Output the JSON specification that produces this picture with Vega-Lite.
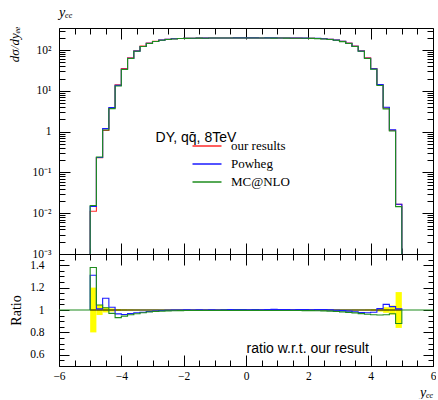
{
  "$schema": "https://vega.github.io/schema/vega-lite/v6.json",
  "background": "white",
  "padding": {"left": 8, "top": 5, "right": 0, "bottom": 0},
  "spacing": 0,
  "bounds": "flush",
  "config": {
    "view": {"stroke": null},
    "axis": {"grid": false, "domainColor": "#000", "domainWidth": 1, "tickColor": "#000", "tickWidth": 1, "labelFont": "Liberation Serif", "labelFontSize": 11.5, "labelColor": "#000", "titleFont": "Liberation Serif", "titleFontSize": 13, "titleFontWeight": "normal", "titleColor": "#000", "labelFlush": false, "labelOverlap": false, "labelBound": false}
  },
  "datasets": {
    "spectra": [
      {"s": "our results", "i": 0, "x": -5, "v": 0.001},
      {"s": "our results", "i": 1, "x": -5, "v": 0.0112},
      {"s": "our results", "i": 2, "x": -4.8, "v": 0.23},
      {"s": "our results", "i": 3, "x": -4.6, "v": 1.08},
      {"s": "our results", "i": 4, "x": -4.4, "v": 3.8},
      {"s": "our results", "i": 5, "x": -4.2, "v": 14.2},
      {"s": "our results", "i": 6, "x": -4, "v": 35.5},
      {"s": "our results", "i": 7, "x": -3.8, "v": 65},
      {"s": "our results", "i": 8, "x": -3.6, "v": 97},
      {"s": "our results", "i": 9, "x": -3.4, "v": 126},
      {"s": "our results", "i": 10, "x": -3.2, "v": 149},
      {"s": "our results", "i": 11, "x": -3, "v": 165},
      {"s": "our results", "i": 12, "x": -2.8, "v": 177},
      {"s": "our results", "i": 13, "x": -2.6, "v": 185},
      {"s": "our results", "i": 14, "x": -2.4, "v": 190},
      {"s": "our results", "i": 15, "x": -2.2, "v": 194},
      {"s": "our results", "i": 16, "x": -2, "v": 196},
      {"s": "our results", "i": 17, "x": -1.8, "v": 197},
      {"s": "our results", "i": 18, "x": -1.6, "v": 198},
      {"s": "our results", "i": 19, "x": -1.4, "v": 198},
      {"s": "our results", "i": 20, "x": -1.2, "v": 199},
      {"s": "our results", "i": 21, "x": -1, "v": 199},
      {"s": "our results", "i": 22, "x": -0.8, "v": 199},
      {"s": "our results", "i": 23, "x": -0.6, "v": 199},
      {"s": "our results", "i": 24, "x": -0.4, "v": 200},
      {"s": "our results", "i": 25, "x": -0.2, "v": 200},
      {"s": "our results", "i": 26, "x": 0, "v": 200},
      {"s": "our results", "i": 27, "x": 0.2, "v": 200},
      {"s": "our results", "i": 28, "x": 0.4, "v": 199},
      {"s": "our results", "i": 29, "x": 0.6, "v": 199},
      {"s": "our results", "i": 30, "x": 0.8, "v": 199},
      {"s": "our results", "i": 31, "x": 1, "v": 199},
      {"s": "our results", "i": 32, "x": 1.2, "v": 199},
      {"s": "our results", "i": 33, "x": 1.4, "v": 198},
      {"s": "our results", "i": 34, "x": 1.6, "v": 198},
      {"s": "our results", "i": 35, "x": 1.8, "v": 197},
      {"s": "our results", "i": 36, "x": 2, "v": 196},
      {"s": "our results", "i": 37, "x": 2.2, "v": 194},
      {"s": "our results", "i": 38, "x": 2.4, "v": 190},
      {"s": "our results", "i": 39, "x": 2.6, "v": 185},
      {"s": "our results", "i": 40, "x": 2.8, "v": 177},
      {"s": "our results", "i": 41, "x": 3, "v": 165},
      {"s": "our results", "i": 42, "x": 3.2, "v": 149},
      {"s": "our results", "i": 43, "x": 3.4, "v": 126},
      {"s": "our results", "i": 44, "x": 3.6, "v": 97},
      {"s": "our results", "i": 45, "x": 3.8, "v": 65},
      {"s": "our results", "i": 46, "x": 4, "v": 35.5},
      {"s": "our results", "i": 47, "x": 4.2, "v": 14.2},
      {"s": "our results", "i": 48, "x": 4.4, "v": 3.8},
      {"s": "our results", "i": 49, "x": 4.6, "v": 1.08},
      {"s": "our results", "i": 50, "x": 4.8, "v": 0.0165},
      {"s": "our results", "i": 51, "x": 5, "v": 0.001},
      {"s": "Powheg", "i": 0, "x": -5, "v": 0.001},
      {"s": "Powheg", "i": 1, "x": -5, "v": 0.01467},
      {"s": "Powheg", "i": 2, "x": -4.8, "v": 0.2323},
      {"s": "Powheg", "i": 3, "x": -4.6, "v": 1.193},
      {"s": "Powheg", "i": 4, "x": -4.4, "v": 3.895},
      {"s": "Powheg", "i": 5, "x": -4.2, "v": 13.7},
      {"s": "Powheg", "i": 6, "x": -4, "v": 34.08},
      {"s": "Powheg", "i": 7, "x": -3.8, "v": 62.92},
      {"s": "Powheg", "i": 8, "x": -3.6, "v": 94.58},
      {"s": "Powheg", "i": 9, "x": -3.4, "v": 123.5},
      {"s": "Powheg", "i": 10, "x": -3.2, "v": 146.9},
      {"s": "Powheg", "i": 11, "x": -3, "v": 163.4},
      {"s": "Powheg", "i": 12, "x": -2.8, "v": 176.1},
      {"s": "Powheg", "i": 13, "x": -2.6, "v": 184.6},
      {"s": "Powheg", "i": 14, "x": -2.4, "v": 190},
      {"s": "Powheg", "i": 15, "x": -2.2, "v": 194},
      {"s": "Powheg", "i": 16, "x": -2, "v": 196.4},
      {"s": "Powheg", "i": 17, "x": -1.8, "v": 197},
      {"s": "Powheg", "i": 18, "x": -1.6, "v": 198.4},
      {"s": "Powheg", "i": 19, "x": -1.4, "v": 198},
      {"s": "Powheg", "i": 20, "x": -1.2, "v": 199.4},
      {"s": "Powheg", "i": 21, "x": -1, "v": 199},
      {"s": "Powheg", "i": 22, "x": -0.8, "v": 199.4},
      {"s": "Powheg", "i": 23, "x": -0.6, "v": 199.6},
      {"s": "Powheg", "i": 24, "x": -0.4, "v": 200.8},
      {"s": "Powheg", "i": 25, "x": -0.2, "v": 200.6},
      {"s": "Powheg", "i": 26, "x": 0, "v": 200.4},
      {"s": "Powheg", "i": 27, "x": 0.2, "v": 200.6},
      {"s": "Powheg", "i": 28, "x": 0.4, "v": 199.4},
      {"s": "Powheg", "i": 29, "x": 0.6, "v": 200},
      {"s": "Powheg", "i": 30, "x": 0.8, "v": 200.2},
      {"s": "Powheg", "i": 31, "x": 1, "v": 199.8},
      {"s": "Powheg", "i": 32, "x": 1.2, "v": 199.6},
      {"s": "Powheg", "i": 33, "x": 1.4, "v": 198.4},
      {"s": "Powheg", "i": 34, "x": 1.6, "v": 198.8},
      {"s": "Powheg", "i": 35, "x": 1.8, "v": 197.6},
      {"s": "Powheg", "i": 36, "x": 2, "v": 196.4},
      {"s": "Powheg", "i": 37, "x": 2.2, "v": 194.6},
      {"s": "Powheg", "i": 38, "x": 2.4, "v": 190.8},
      {"s": "Powheg", "i": 39, "x": 2.6, "v": 185.2},
      {"s": "Powheg", "i": 40, "x": 2.8, "v": 176.6},
      {"s": "Powheg", "i": 41, "x": 3, "v": 164},
      {"s": "Powheg", "i": 42, "x": 3.2, "v": 147.5},
      {"s": "Powheg", "i": 43, "x": 3.4, "v": 124.1},
      {"s": "Powheg", "i": 44, "x": 3.6, "v": 94.9},
      {"s": "Powheg", "i": 45, "x": 3.8, "v": 63.4},
      {"s": "Powheg", "i": 46, "x": 4, "v": 34.8},
      {"s": "Powheg", "i": 47, "x": 4.2, "v": 14.37},
      {"s": "Powheg", "i": 48, "x": 4.4, "v": 3.99},
      {"s": "Powheg", "i": 49, "x": 4.6, "v": 1.112},
      {"s": "Powheg", "i": 50, "x": 4.8, "v": 0.01667},
      {"s": "Powheg", "i": 51, "x": 5, "v": 0.001},
      {"s": "MC@NLO", "i": 0, "x": -5, "v": 0.001},
      {"s": "MC@NLO", "i": 1, "x": -5, "v": 0.01546},
      {"s": "MC@NLO", "i": 2, "x": -4.8, "v": 0.2404},
      {"s": "MC@NLO", "i": 3, "x": -4.6, "v": 1.102},
      {"s": "MC@NLO", "i": 4, "x": -4.4, "v": 3.686},
      {"s": "MC@NLO", "i": 5, "x": -4.2, "v": 13.23},
      {"s": "MC@NLO", "i": 6, "x": -4, "v": 33.55},
      {"s": "MC@NLO", "i": 7, "x": -3.8, "v": 62.27},
      {"s": "MC@NLO", "i": 8, "x": -3.6, "v": 93.8},
      {"s": "MC@NLO", "i": 9, "x": -3.4, "v": 122.9},
      {"s": "MC@NLO", "i": 10, "x": -3.2, "v": 146.3},
      {"s": "MC@NLO", "i": 11, "x": -3, "v": 162.7},
      {"s": "MC@NLO", "i": 12, "x": -2.8, "v": 175.2},
      {"s": "MC@NLO", "i": 13, "x": -2.6, "v": 183.5},
      {"s": "MC@NLO", "i": 14, "x": -2.4, "v": 188.7},
      {"s": "MC@NLO", "i": 15, "x": -2.2, "v": 192.8},
      {"s": "MC@NLO", "i": 16, "x": -2, "v": 195},
      {"s": "MC@NLO", "i": 17, "x": -1.8, "v": 196},
      {"s": "MC@NLO", "i": 18, "x": -1.6, "v": 197.2},
      {"s": "MC@NLO", "i": 19, "x": -1.4, "v": 197},
      {"s": "MC@NLO", "i": 20, "x": -1.2, "v": 198.2},
      {"s": "MC@NLO", "i": 21, "x": -1, "v": 198.2},
      {"s": "MC@NLO", "i": 22, "x": -0.8, "v": 198.4},
      {"s": "MC@NLO", "i": 23, "x": -0.6, "v": 198.2},
      {"s": "MC@NLO", "i": 24, "x": -0.4, "v": 199.4},
      {"s": "MC@NLO", "i": 25, "x": -0.2, "v": 199.4},
      {"s": "MC@NLO", "i": 26, "x": 0, "v": 199.2},
      {"s": "MC@NLO", "i": 27, "x": 0.2, "v": 199.4},
      {"s": "MC@NLO", "i": 28, "x": 0.4, "v": 198.2},
      {"s": "MC@NLO", "i": 29, "x": 0.6, "v": 198.2},
      {"s": "MC@NLO", "i": 30, "x": 0.8, "v": 198},
      {"s": "MC@NLO", "i": 31, "x": 1, "v": 198.2},
      {"s": "MC@NLO", "i": 32, "x": 1.2, "v": 198},
      {"s": "MC@NLO", "i": 33, "x": 1.4, "v": 197},
      {"s": "MC@NLO", "i": 34, "x": 1.6, "v": 197},
      {"s": "MC@NLO", "i": 35, "x": 1.8, "v": 195.8},
      {"s": "MC@NLO", "i": 36, "x": 2, "v": 194.8},
      {"s": "MC@NLO", "i": 37, "x": 2.2, "v": 192.6},
      {"s": "MC@NLO", "i": 38, "x": 2.4, "v": 188.5},
      {"s": "MC@NLO", "i": 39, "x": 2.6, "v": 183.2},
      {"s": "MC@NLO", "i": 40, "x": 2.8, "v": 174.7},
      {"s": "MC@NLO", "i": 41, "x": 3, "v": 162.2},
      {"s": "MC@NLO", "i": 42, "x": 3.2, "v": 145.9},
      {"s": "MC@NLO", "i": 43, "x": 3.4, "v": 122.7},
      {"s": "MC@NLO", "i": 44, "x": 3.6, "v": 93.9},
      {"s": "MC@NLO", "i": 45, "x": 3.8, "v": 62.5},
      {"s": "MC@NLO", "i": 46, "x": 4, "v": 34},
      {"s": "MC@NLO", "i": 47, "x": 4.2, "v": 13.56},
      {"s": "MC@NLO", "i": 48, "x": 4.4, "v": 3.64},
      {"s": "MC@NLO", "i": 49, "x": 4.6, "v": 1.043},
      {"s": "MC@NLO", "i": 50, "x": 4.8, "v": 0.01452},
      {"s": "MC@NLO", "i": 51, "x": 5, "v": 0.001}
    ],
    "ratio": [
      {"s": "Powheg", "i": 0, "x": -5, "r": 1},
      {"s": "Powheg", "i": 1, "x": -5, "r": 1.31},
      {"s": "Powheg", "i": 2, "x": -4.8, "r": 1.01},
      {"s": "Powheg", "i": 3, "x": -4.6, "r": 1.105},
      {"s": "Powheg", "i": 4, "x": -4.4, "r": 1.025},
      {"s": "Powheg", "i": 5, "x": -4.2, "r": 0.965},
      {"s": "Powheg", "i": 6, "x": -4, "r": 0.96},
      {"s": "Powheg", "i": 7, "x": -3.8, "r": 0.968},
      {"s": "Powheg", "i": 8, "x": -3.6, "r": 0.975},
      {"s": "Powheg", "i": 9, "x": -3.4, "r": 0.98},
      {"s": "Powheg", "i": 10, "x": -3.2, "r": 0.986},
      {"s": "Powheg", "i": 11, "x": -3, "r": 0.99},
      {"s": "Powheg", "i": 12, "x": -2.8, "r": 0.995},
      {"s": "Powheg", "i": 13, "x": -2.6, "r": 0.998},
      {"s": "Powheg", "i": 14, "x": -2.4, "r": 1},
      {"s": "Powheg", "i": 15, "x": -2.2, "r": 1},
      {"s": "Powheg", "i": 16, "x": -2, "r": 1.002},
      {"s": "Powheg", "i": 17, "x": -1.8, "r": 1},
      {"s": "Powheg", "i": 18, "x": -1.6, "r": 1.002},
      {"s": "Powheg", "i": 19, "x": -1.4, "r": 1},
      {"s": "Powheg", "i": 20, "x": -1.2, "r": 1.002},
      {"s": "Powheg", "i": 21, "x": -1, "r": 1},
      {"s": "Powheg", "i": 22, "x": -0.8, "r": 1.002},
      {"s": "Powheg", "i": 23, "x": -0.6, "r": 1.003},
      {"s": "Powheg", "i": 24, "x": -0.4, "r": 1.004},
      {"s": "Powheg", "i": 25, "x": -0.2, "r": 1.003},
      {"s": "Powheg", "i": 26, "x": 0, "r": 1.002},
      {"s": "Powheg", "i": 27, "x": 0.2, "r": 1.003},
      {"s": "Powheg", "i": 28, "x": 0.4, "r": 1.002},
      {"s": "Powheg", "i": 29, "x": 0.6, "r": 1.005},
      {"s": "Powheg", "i": 30, "x": 0.8, "r": 1.006},
      {"s": "Powheg", "i": 31, "x": 1, "r": 1.004},
      {"s": "Powheg", "i": 32, "x": 1.2, "r": 1.003},
      {"s": "Powheg", "i": 33, "x": 1.4, "r": 1.002},
      {"s": "Powheg", "i": 34, "x": 1.6, "r": 1.004},
      {"s": "Powheg", "i": 35, "x": 1.8, "r": 1.003},
      {"s": "Powheg", "i": 36, "x": 2, "r": 1.002},
      {"s": "Powheg", "i": 37, "x": 2.2, "r": 1.003},
      {"s": "Powheg", "i": 38, "x": 2.4, "r": 1.004},
      {"s": "Powheg", "i": 39, "x": 2.6, "r": 1.001},
      {"s": "Powheg", "i": 40, "x": 2.8, "r": 0.998},
      {"s": "Powheg", "i": 41, "x": 3, "r": 0.994},
      {"s": "Powheg", "i": 42, "x": 3.2, "r": 0.99},
      {"s": "Powheg", "i": 43, "x": 3.4, "r": 0.985},
      {"s": "Powheg", "i": 44, "x": 3.6, "r": 0.978},
      {"s": "Powheg", "i": 45, "x": 3.8, "r": 0.975},
      {"s": "Powheg", "i": 46, "x": 4, "r": 0.98},
      {"s": "Powheg", "i": 47, "x": 4.2, "r": 1.012},
      {"s": "Powheg", "i": 48, "x": 4.4, "r": 1.05},
      {"s": "Powheg", "i": 49, "x": 4.6, "r": 1.03},
      {"s": "Powheg", "i": 50, "x": 4.8, "r": 1.01},
      {"s": "Powheg", "i": 51, "x": 5, "r": 1},
      {"s": "MC@NLO", "i": 0, "x": -6, "r": 1},
      {"s": "MC@NLO", "i": 1, "x": -5, "r": 1.38},
      {"s": "MC@NLO", "i": 2, "x": -4.8, "r": 1.045},
      {"s": "MC@NLO", "i": 3, "x": -4.6, "r": 1.02},
      {"s": "MC@NLO", "i": 4, "x": -4.4, "r": 0.97},
      {"s": "MC@NLO", "i": 5, "x": -4.2, "r": 0.932},
      {"s": "MC@NLO", "i": 6, "x": -4, "r": 0.945},
      {"s": "MC@NLO", "i": 7, "x": -3.8, "r": 0.958},
      {"s": "MC@NLO", "i": 8, "x": -3.6, "r": 0.967},
      {"s": "MC@NLO", "i": 9, "x": -3.4, "r": 0.975},
      {"s": "MC@NLO", "i": 10, "x": -3.2, "r": 0.982},
      {"s": "MC@NLO", "i": 11, "x": -3, "r": 0.986},
      {"s": "MC@NLO", "i": 12, "x": -2.8, "r": 0.99},
      {"s": "MC@NLO", "i": 13, "x": -2.6, "r": 0.992},
      {"s": "MC@NLO", "i": 14, "x": -2.4, "r": 0.993},
      {"s": "MC@NLO", "i": 15, "x": -2.2, "r": 0.994},
      {"s": "MC@NLO", "i": 16, "x": -2, "r": 0.995},
      {"s": "MC@NLO", "i": 17, "x": -1.8, "r": 0.995},
      {"s": "MC@NLO", "i": 18, "x": -1.6, "r": 0.996},
      {"s": "MC@NLO", "i": 19, "x": -1.4, "r": 0.995},
      {"s": "MC@NLO", "i": 20, "x": -1.2, "r": 0.996},
      {"s": "MC@NLO", "i": 21, "x": -1, "r": 0.996},
      {"s": "MC@NLO", "i": 22, "x": -0.8, "r": 0.997},
      {"s": "MC@NLO", "i": 23, "x": -0.6, "r": 0.996},
      {"s": "MC@NLO", "i": 24, "x": -0.4, "r": 0.997},
      {"s": "MC@NLO", "i": 25, "x": -0.2, "r": 0.997},
      {"s": "MC@NLO", "i": 26, "x": 0, "r": 0.996},
      {"s": "MC@NLO", "i": 27, "x": 0.2, "r": 0.997},
      {"s": "MC@NLO", "i": 28, "x": 0.4, "r": 0.996},
      {"s": "MC@NLO", "i": 29, "x": 0.6, "r": 0.996},
      {"s": "MC@NLO", "i": 30, "x": 0.8, "r": 0.995},
      {"s": "MC@NLO", "i": 31, "x": 1, "r": 0.996},
      {"s": "MC@NLO", "i": 32, "x": 1.2, "r": 0.995},
      {"s": "MC@NLO", "i": 33, "x": 1.4, "r": 0.995},
      {"s": "MC@NLO", "i": 34, "x": 1.6, "r": 0.995},
      {"s": "MC@NLO", "i": 35, "x": 1.8, "r": 0.994},
      {"s": "MC@NLO", "i": 36, "x": 2, "r": 0.994},
      {"s": "MC@NLO", "i": 37, "x": 2.2, "r": 0.993},
      {"s": "MC@NLO", "i": 38, "x": 2.4, "r": 0.992},
      {"s": "MC@NLO", "i": 39, "x": 2.6, "r": 0.99},
      {"s": "MC@NLO", "i": 40, "x": 2.8, "r": 0.987},
      {"s": "MC@NLO", "i": 41, "x": 3, "r": 0.983},
      {"s": "MC@NLO", "i": 42, "x": 3.2, "r": 0.979},
      {"s": "MC@NLO", "i": 43, "x": 3.4, "r": 0.974},
      {"s": "MC@NLO", "i": 44, "x": 3.6, "r": 0.968},
      {"s": "MC@NLO", "i": 45, "x": 3.8, "r": 0.962},
      {"s": "MC@NLO", "i": 46, "x": 4, "r": 0.958},
      {"s": "MC@NLO", "i": 47, "x": 4.2, "r": 0.955},
      {"s": "MC@NLO", "i": 48, "x": 4.4, "r": 0.958},
      {"s": "MC@NLO", "i": 49, "x": 4.6, "r": 0.966},
      {"s": "MC@NLO", "i": 50, "x": 4.8, "r": 0.88},
      {"s": "MC@NLO", "i": 51, "x": 5, "r": 1},
      {"s": "MC@NLO", "i": 52, "x": 6, "r": 1}
    ],
    "band": [
      {"x0": -5, "x1": -4.8, "lo": 0.8, "hi": 1.2},
      {"x0": -4.8, "x1": -4.6, "lo": 0.955, "hi": 1.045},
      {"x0": -4.6, "x1": -4.4, "lo": 0.978, "hi": 1.022},
      {"x0": -4.4, "x1": -4.2, "lo": 0.986, "hi": 1.014},
      {"x0": -4.2, "x1": -4, "lo": 0.991, "hi": 1.009},
      {"x0": -4, "x1": -3.8, "lo": 0.993, "hi": 1.007},
      {"x0": -3.8, "x1": -3.6, "lo": 0.994, "hi": 1.006},
      {"x0": -3.6, "x1": -3.4, "lo": 0.995, "hi": 1.005},
      {"x0": -3.4, "x1": -3.2, "lo": 0.996, "hi": 1.004},
      {"x0": -3.2, "x1": -3, "lo": 0.996, "hi": 1.004},
      {"x0": -3, "x1": -2.8, "lo": 0.996, "hi": 1.004},
      {"x0": -2.8, "x1": -2.6, "lo": 0.997, "hi": 1.003},
      {"x0": -2.6, "x1": -2.4, "lo": 0.997, "hi": 1.003},
      {"x0": -2.4, "x1": -2.2, "lo": 0.997, "hi": 1.003},
      {"x0": -2.2, "x1": -2, "lo": 0.997, "hi": 1.003},
      {"x0": -2, "x1": -1.8, "lo": 0.997, "hi": 1.003},
      {"x0": -1.8, "x1": -1.6, "lo": 0.997, "hi": 1.003},
      {"x0": -1.6, "x1": -1.4, "lo": 0.997, "hi": 1.003},
      {"x0": -1.4, "x1": -1.2, "lo": 0.997, "hi": 1.003},
      {"x0": -1.2, "x1": -1, "lo": 0.997, "hi": 1.003},
      {"x0": -1, "x1": -0.8, "lo": 0.997, "hi": 1.003},
      {"x0": -0.8, "x1": -0.6, "lo": 0.997, "hi": 1.003},
      {"x0": -0.6, "x1": -0.4, "lo": 0.997, "hi": 1.003},
      {"x0": -0.4, "x1": -0.2, "lo": 0.997, "hi": 1.003},
      {"x0": -0.2, "x1": 0, "lo": 0.997, "hi": 1.003},
      {"x0": 0, "x1": 0.2, "lo": 0.997, "hi": 1.003},
      {"x0": 0.2, "x1": 0.4, "lo": 0.997, "hi": 1.003},
      {"x0": 0.4, "x1": 0.6, "lo": 0.997, "hi": 1.003},
      {"x0": 0.6, "x1": 0.8, "lo": 0.997, "hi": 1.003},
      {"x0": 0.8, "x1": 1, "lo": 0.997, "hi": 1.003},
      {"x0": 1, "x1": 1.2, "lo": 0.997, "hi": 1.003},
      {"x0": 1.2, "x1": 1.4, "lo": 0.997, "hi": 1.003},
      {"x0": 1.4, "x1": 1.6, "lo": 0.997, "hi": 1.003},
      {"x0": 1.6, "x1": 1.8, "lo": 0.997, "hi": 1.003},
      {"x0": 1.8, "x1": 2, "lo": 0.997, "hi": 1.003},
      {"x0": 2, "x1": 2.2, "lo": 0.997, "hi": 1.003},
      {"x0": 2.2, "x1": 2.4, "lo": 0.997, "hi": 1.003},
      {"x0": 2.4, "x1": 2.6, "lo": 0.997, "hi": 1.003},
      {"x0": 2.6, "x1": 2.8, "lo": 0.997, "hi": 1.003},
      {"x0": 2.8, "x1": 3, "lo": 0.996, "hi": 1.004},
      {"x0": 3, "x1": 3.2, "lo": 0.996, "hi": 1.004},
      {"x0": 3.2, "x1": 3.4, "lo": 0.996, "hi": 1.004},
      {"x0": 3.4, "x1": 3.6, "lo": 0.995, "hi": 1.005},
      {"x0": 3.6, "x1": 3.8, "lo": 0.995, "hi": 1.005},
      {"x0": 3.8, "x1": 4, "lo": 0.994, "hi": 1.006},
      {"x0": 4, "x1": 4.2, "lo": 0.992, "hi": 1.008},
      {"x0": 4.2, "x1": 4.4, "lo": 0.986, "hi": 1.014},
      {"x0": 4.4, "x1": 4.6, "lo": 0.975, "hi": 1.025},
      {"x0": 4.6, "x1": 4.8, "lo": 0.96, "hi": 1.04},
      {"x0": 4.8, "x1": 5, "lo": 0.84, "hi": 1.16}
    ]
  },
  "vconcat": [
    {
      "width": 374,
      "height": 226,
      "title": {"text": "yₑₑ", "anchor": "start", "frame": "group", "font": "Liberation Serif", "fontStyle": "italic", "fontSize": 14, "fontWeight": "normal", "color": "#000", "offset": 5},
      "layer": [
        {
          "data": {"name": "spectra"},
          "mark": {"type": "line", "interpolate": "step-after", "strokeWidth": 1.1, "clip": true},
          "encoding": {
            "x": {"field": "x", "type": "quantitative", "scale": {"domain": [-6, 6], "nice": false, "zero": false},
              "axis": {"orient": "bottom", "values": [-6,-5.5,-5,-4.5,-4,-3.5,-3,-2.5,-2,-1.5,-1,-0.5,0,0.5,1,1.5,2,2.5,3,3.5,4,4.5,5,5.5,6], "labels": false, "title": null,
                "tickSize": {"condition": {"test": "datum.value % 2 == 0", "value": -11}, "value": -6}}},
            "y": {"field": "v", "type": "quantitative", "scale": {"type": "log", "domain": [0.001, 350], "nice": false},
              "axis": {"orient": "left", "values": [0.001,0.002,0.003,0.004,0.005,0.006,0.007,0.008,0.009,0.01,0.02,0.03,0.04,0.05,0.06,0.07,0.08,0.09,0.1,0.2,0.3,0.4,0.5,0.6,0.7,0.8,0.9,1,2,3,4,5,6,7,8,9,10,20,30,40,50,60,70,80,90,100,200,300],
                "labelExpr": "datum.value == 100 ? '10²' : datum.value == 10 ? '10¹' : datum.value == 1 ? '1' : datum.value == 0.1 ? '10⁻¹' : datum.value == 0.01 ? '10⁻²' : datum.value == 0.001 ? '10⁻³' : ''",
                "tickSize": {"condition": {"test": "indexof([0.001,0.01,0.1,1,10,100], datum.value) >= 0", "value": -11}, "value": -6},
                "labelPadding": 19,
                "title": "dσ/dyₑₑ", "titleFontStyle": "italic", "titleAngle": 270, "titleX": -45, "titleY": -2, "titleAlign": "right", "titleBaseline": "middle"}},
            "color": {"field": "s", "type": "nominal",
              "scale": {"domain": ["our results", "Powheg", "MC@NLO"], "range": ["#ff2a2a", "#1a1aff", "#1e8c1e"]},
              "legend": {"orient": "none", "legendX": 141.5, "legendY": 111.5, "title": null, "padding": 0, "symbolType": "M-2.9,0H2.9", "symbolSize": 100, "symbolStrokeWidth": 1.5, "labelFont": "Liberation Serif", "labelFontSize": 13, "labelColor": "#000", "rowPadding": 4, "labelOffset": 17.5}},
            "order": {"field": "i", "type": "quantitative"}
          }
        },
        {
          "data": {"values": [{"label": "DY, qq̄, 8TeV"}]},
          "mark": {"type": "text", "align": "left", "baseline": "alphabetic", "font": "Liberation Sans", "fontSize": 14, "color": "#000"},
          "encoding": {
            "x": {"datum": -2.9, "type": "quantitative", "scale": {"domain": [-6, 6], "nice": false, "zero": false},
              "axis": {"orient": "top", "values": [-6,-5.5,-5,-4.5,-4,-3.5,-3,-2.5,-2,-1.5,-1,-0.5,0,0.5,1,1.5,2,2.5,3,3.5,4,4.5,5,5.5,6], "labels": false, "title": null,
                "tickSize": {"condition": {"test": "datum.value % 2 == 0", "value": -11}, "value": -6}}},
            "y": {"datum": 0.56, "type": "quantitative", "scale": {"type": "log", "domain": [0.001, 350], "nice": false},
              "axis": {"orient": "right", "values": [0.001,0.002,0.003,0.004,0.005,0.006,0.007,0.008,0.009,0.01,0.02,0.03,0.04,0.05,0.06,0.07,0.08,0.09,0.1,0.2,0.3,0.4,0.5,0.6,0.7,0.8,0.9,1,2,3,4,5,6,7,8,9,10,20,30,40,50,60,70,80,90,100,200,300], "labels": false, "title": null,
                "tickSize": {"condition": {"test": "indexof([0.001,0.01,0.1,1,10,100], datum.value) >= 0", "value": -11}, "value": -6}}},
            "text": {"field": "label"}
          }
        }
      ],
      "resolve": {"axis": {"x": "independent", "y": "independent"}}
    },
    {
      "width": 374,
      "height": 112,
      "layer": [
        {
          "data": {"name": "band"},
          "mark": {"type": "rect", "color": "#ffff00", "clip": true},
          "encoding": {
            "x": {"field": "x0", "type": "quantitative", "scale": {"domain": [-6, 6], "nice": false, "zero": false},
              "axis": {"orient": "bottom", "values": [-6,-5.5,-5,-4.5,-4,-3.5,-3,-2.5,-2,-1.5,-1,-0.5,0,0.5,1,1.5,2,2.5,3,3.5,4,4.5,5,5.5,6],
                "labelExpr": "datum.value % 2 == 0 ? format(datum.value, 'd') : ''", "labelPadding": 15,
                "tickSize": {"condition": {"test": "datum.value % 2 == 0", "value": -11}, "value": -6},
                "title": "yₑₑ", "titleFontStyle": "italic", "titleFontSize": 14, "titleX": 374, "titleY": 26, "titleAlign": "right", "titleBaseline": "middle"}},
            "x2": {"field": "x1"},
            "y": {"field": "lo", "type": "quantitative", "scale": {"domain": [0.5, 1.5], "nice": false, "zero": false},
              "axis": {"orient": "left", "values": [0.5,0.55,0.6,0.65,0.7,0.75,0.8,0.85,0.9,0.95,1,1.05,1.1,1.15,1.2,1.25,1.3,1.35,1.4,1.45,1.5],
                "labelExpr": "datum.value == 1.4 ? '1.4' : datum.value == 1.2 ? '1.2' : datum.value == 1 ? '1' : datum.value == 0.8 ? '0.8' : datum.value == 0.6 ? '0.6' : ''",
                "tickSize": {"condition": {"test": "indexof([0.6,0.8,1,1.2,1.4], datum.value) >= 0", "value": -10}, "value": -5},
                "labelPadding": 25,
                "title": "Ratio", "titleFontSize": 14, "titleAngle": 270, "titleX": -43, "titleBaseline": "middle"}},
            "y2": {"field": "hi"}
          }
        },
        {
          "data": {"values": [{"ref": "our result"}]},
          "mark": {"type": "rule", "color": "#000", "strokeWidth": 1},
          "encoding": {
            "x": {"datum": -5, "type": "quantitative", "scale": {"domain": [-6, 6], "nice": false, "zero": false},
              "axis": {"orient": "top", "values": [-6,-5.5,-5,-4.5,-4,-3.5,-3,-2.5,-2,-1.5,-1,-0.5,0,0.5,1,1.5,2,2.5,3,3.5,4,4.5,5,5.5,6], "labels": false, "title": null,
                "tickSize": {"condition": {"test": "datum.value % 2 == 0", "value": -11}, "value": -6}}},
            "x2": {"datum": 5},
            "y": {"datum": 1, "type": "quantitative", "scale": {"domain": [0.5, 1.5], "nice": false, "zero": false},
              "axis": {"orient": "right", "values": [0.5,0.55,0.6,0.65,0.7,0.75,0.8,0.85,0.9,0.95,1,1.05,1.1,1.15,1.2,1.25,1.3,1.35,1.4,1.45,1.5], "labels": false, "title": null,
                "tickSize": {"condition": {"test": "indexof([0.6,0.8,1,1.2,1.4], datum.value) >= 0", "value": -10}, "value": -5}}}
          }
        },
        {
          "data": {"name": "ratio"},
          "transform": [{"filter": "datum.s === 'Powheg'"}],
          "mark": {"type": "line", "interpolate": "step-after", "strokeWidth": 1.1, "color": "#1a1aff", "clip": true},
          "encoding": {
            "x": {"field": "x", "type": "quantitative", "scale": {"domain": [-6, 6], "nice": false, "zero": false}, "axis": null},
            "y": {"field": "r", "type": "quantitative", "scale": {"domain": [0.5, 1.5], "nice": false, "zero": false}, "axis": null},
            "order": {"field": "i", "type": "quantitative"}
          }
        },
        {
          "data": {"name": "ratio"},
          "transform": [{"filter": "datum.s === 'MC@NLO'"}],
          "mark": {"type": "line", "interpolate": "step-after", "strokeWidth": 1.1, "color": "#1e8c1e", "clip": true},
          "encoding": {
            "x": {"field": "x", "type": "quantitative", "scale": {"domain": [-6, 6], "nice": false, "zero": false}, "axis": null},
            "y": {"field": "r", "type": "quantitative", "scale": {"domain": [0.5, 1.5], "nice": false, "zero": false}, "axis": null},
            "order": {"field": "i", "type": "quantitative"}
          }
        },
        {
          "data": {"values": [{"label": "ratio w.r.t. our result"}]},
          "mark": {"type": "text", "align": "left", "baseline": "alphabetic", "font": "Liberation Sans", "fontSize": 14, "color": "#000"},
          "encoding": {
            "x": {"datum": 0.02, "type": "quantitative", "scale": {"domain": [-6, 6], "nice": false, "zero": false}, "axis": null},
            "y": {"datum": 0.616, "type": "quantitative", "scale": {"domain": [0.5, 1.5], "nice": false, "zero": false}, "axis": null},
            "text": {"field": "label"}
          }
        }
      ],
      "resolve": {"axis": {"x": "independent", "y": "independent"}}
    }
  ]
}
